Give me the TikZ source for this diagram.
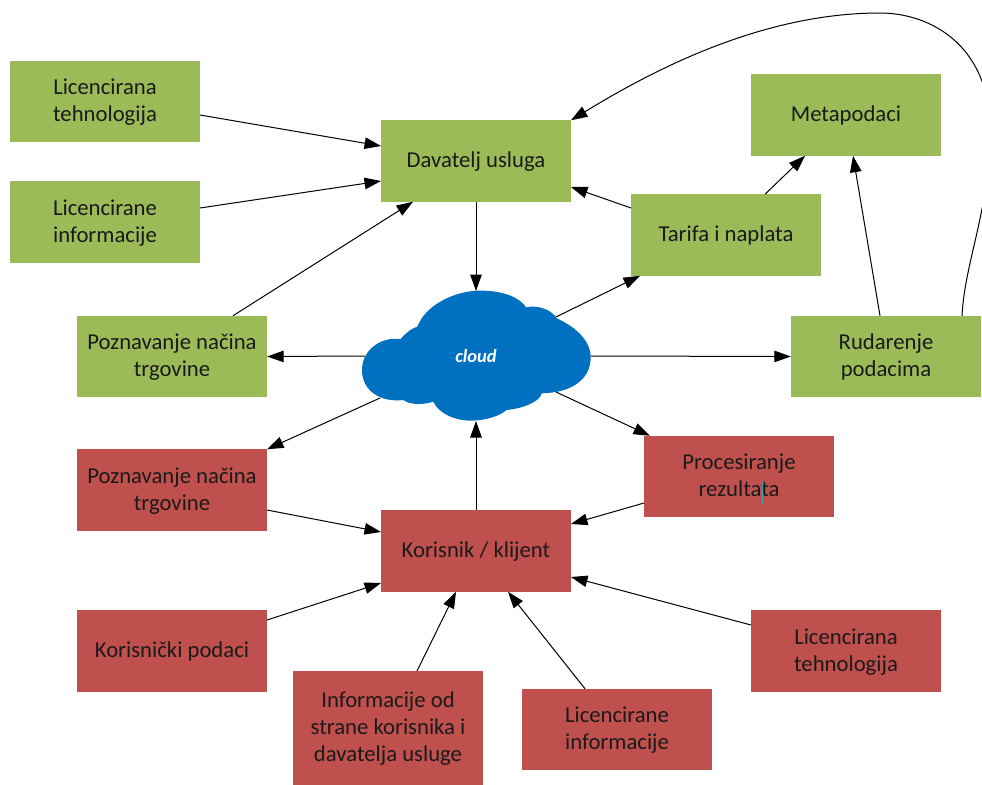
\documentclass[tikz,border=0pt]{standalone}
\usepackage{fontspec}
\setmainfont{Carlito}
\usetikzlibrary{arrows.meta,calc}
\definecolor{boxgreen}{HTML}{9BBB59}
\definecolor{boxred}{HTML}{C0504D}
\definecolor{cloudblue}{HTML}{0070C0}
\definecolor{txt}{HTML}{1A1A1A}
\definecolor{cursorc}{HTML}{4F9FB0}
\tikzset{
  x=1pt,y=-1pt,
  base/.style={minimum width=190pt,minimum height=81.5pt,inner sep=0pt,text=txt,font=\fontsize{22.7}{27}\selectfont},
  gbox/.style={base,fill=boxgreen},
  rbox/.style={base,fill=boxred},
  conn/.style={draw=black,line width=1pt,-{Triangle[length=16.5pt,width=11.5pt]}},
}
\newcommand{\off}[3]{($(#1.center)+(#2,#3)$)}
\newcommand{\lbl}[1]{\vbox{\kern3pt\hbox{\begin{tabular}{@{}c@{}}#1\end{tabular}}}}
\begin{document}
\begin{tikzpicture}
\useasboundingbox (0,0) rectangle (982,784);
\fill[white] (0,0) rectangle (982,784);
% boxes
\node[gbox] (lt1) at (105,101.5) {\lbl{Licencirana\\tehnologija}};
\node[gbox] (li1) at (105,222) {\lbl{Licencirane\\informacije}};
\node[gbox] (du) at (476,161) {\lbl{Davatelj usluga}};
\node[gbox] (meta) at (846,115) {\lbl{Metapodaci}};
\node[gbox] (tar) at (726,235) {\lbl{Tarifa i naplata}};
\node[gbox] (pzg) at (172,356.5) {\lbl{Poznavanje načina\\trgovine}};
\node[gbox] (rud) at (886,356.5) {\lbl{Rudarenje\\podacima}};
\node[rbox] (pzr) at (172,490) {\lbl{Poznavanje načina\\trgovine}};
\node[rbox] (proc) at (739,476.5) {\lbl{Procesiranje\\rezultata}};
\node[rbox] (kor) at (476,551) {\lbl{Korisnik / klijent}};
\node[rbox] (kp) at (172,651) {\lbl{Korisnički podaci}};
\node[rbox,minimum height=114pt] (inf) at (388,728) {\lbl{Informacije od\\strane korisnika i\\davatelja usluge}};
\node[rbox] (li2) at (617,729.5) {\lbl{Licencirane\\informacije}};
\node[rbox] (lt2) at (846,651) {\lbl{Licencirana\\tehnologija}};
\draw[cursorc,line width=1pt] ($(proc.center)+(23,5.5)$) -- ($(proc.center)+(23,27.5)$);
% cloud
\begin{scope}[shift={(340,270)},x=0.33333pt,y=-0.33333pt]
\fill[cloudblue] (408,62) .. controls (460,60) and (530,70) .. (558,112)
 .. controls (590,104) and (635,118) .. (650,145)
 .. controls (695,165) and (752,205) .. (752,262)
 .. controls (752,325) and (700,368) .. (605,370)
 .. controls (600,395) and (550,415) .. (500,420)
 .. controls (470,445) and (420,452) .. (390,452)
 .. controls (345,452) and (295,430) .. (280,395)
 .. controls (250,405) and (210,405) .. (190,390)
 .. controls (125,398) and (66,365) .. (66,300)
 .. controls (66,245) and (115,200) .. (182,207)
 .. controls (195,190) and (215,175) .. (232,170)
 .. controls (255,110) and (330,68) .. (408,62) -- cycle;
\end{scope}
\node[inner sep=0pt,text=white,font=\fontsize{18.5}{20}\selectfont\bfseries\itshape] (cloud) at (476,356) {cloud};
% connectors
\draw[conn] \off{lt1}{95}{13.5} -- \off{du}{-95}{-15};
\draw[conn] \off{li1}{95}{-14} -- \off{du}{-95}{20};
\draw[conn] \off{pzg}{61}{-40.75} -- \off{du}{-63}{40.75};
\draw[conn] (du.south) -- \off{cloud}{0}{-65};
\draw[conn] \off{tar}{-95}{-27} -- \off{du}{95}{26};
\draw[conn] \off{tar}{39}{-40.75} -- \off{meta}{-41}{40.75};
\draw[conn] \off{rud}{-6}{-40.75} -- \off{meta}{7}{40.75};
\draw[conn] \off{rud}{76}{-40.75} .. controls (965,260) and (990,210) .. (990,130)
  .. controls (990,45) and (930,13) .. (880,13)
  .. controls (760,13) and (650,72) .. \off{du}{95}{-40.75};
\draw[conn] \off{cloud}{80}{-39} -- \off{tar}{-86}{40.75};
\draw[conn] \off{cloud}{115}{0} -- (rud.west);
\draw[conn] \off{cloud}{-111}{0} -- (pzg.east);
\draw[conn] \off{cloud}{-96}{42} -- \off{pzr}{95}{-40.75};
\draw[conn] \off{cloud}{80}{36} -- \off{proc}{-89}{-40.75};
\draw[conn] (kor.north) -- \off{cloud}{0}{65};
\draw[conn] \off{proc}{-95}{26.5} -- \off{kor}{95}{-27};
\draw[conn] \off{pzr}{95}{20} -- \off{kor}{-95}{-19};
\draw[conn] \off{kp}{95}{-31} -- \off{kor}{-95}{32};
\draw[conn] \off{inf}{29}{-57} -- \off{kor}{-20}{40.75};
\draw[conn] \off{li2}{-32}{-40.75} -- \off{kor}{32}{40.75};
\draw[conn] \off{lt2}{-95}{-26} -- \off{kor}{95}{26};
\end{tikzpicture}
\end{document}
